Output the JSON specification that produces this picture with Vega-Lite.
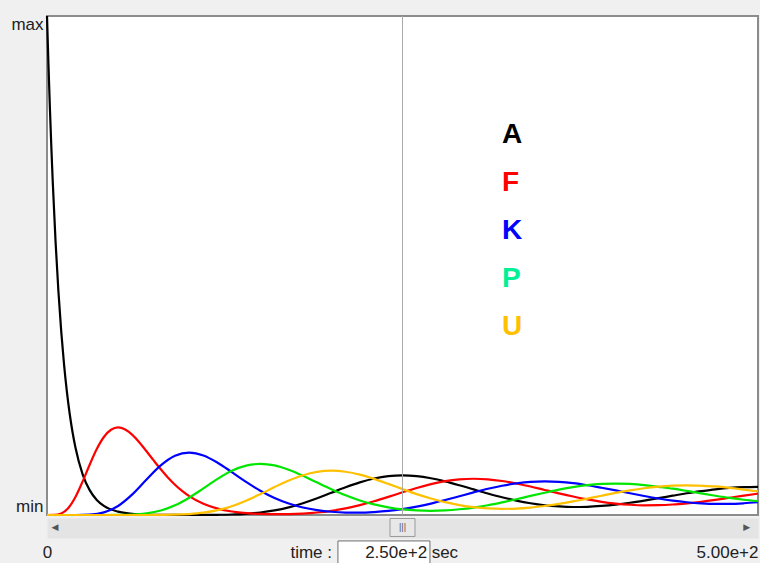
{
  "$schema": "https://vega.github.io/schema/vega-lite/v6.json",
  "autosize": {"type": "none"},
  "padding": {"left": 47, "top": 16, "right": 2, "bottom": 48},
  "width": 711,
  "height": 499,
  "background": "#f0f0f0",
  "config": {
    "view": {"fill": "white", "stroke": "#8c8c8c", "strokeWidth": 2},
    "font": "Liberation Sans"
  },
  "datasets": {
    "series": [
      {"t":0,"v":1,"s":"A"},{"t":1,"v":0.9048,"s":"A"},{"t":2,"v":0.8187,"s":"A"},{"t":3,"v":0.7408,"s":"A"},{"t":4,"v":0.6703,"s":"A"},{"t":6,"v":0.5488,"s":"A"},{"t":8,"v":0.4493,"s":"A"},{"t":10,"v":0.3679,"s":"A"},{"t":12,"v":0.3012,"s":"A"},{"t":14,"v":0.2466,"s":"A"},{"t":16,"v":0.2019,"s":"A"},{"t":18,"v":0.1653,"s":"A"},{"t":20,"v":0.1353,"s":"A"},{"t":25,"v":0.0821,"s":"A"},{"t":30,"v":0.0498,"s":"A"},{"t":35,"v":0.0302,"s":"A"},{"t":40,"v":0.0183,"s":"A"},{"t":50,"v":0.0067,"s":"A"},{"t":60,"v":0.0025,"s":"A"},{"t":70,"v":0.0009,"s":"A"},{"t":80,"v":0.0003,"s":"A"},{"t":90,"v":0.0001,"s":"A"},{"t":100,"v":0.0,"s":"A"},{"t":110,"v":0.0001,"s":"A"},{"t":120,"v":0.0004,"s":"A"},{"t":130,"v":0.001,"s":"A"},{"t":140,"v":0.0024,"s":"A"},{"t":150,"v":0.005,"s":"A"},{"t":160,"v":0.0092,"s":"A"},{"t":170,"v":0.0154,"s":"A"},{"t":180,"v":0.0237,"s":"A"},{"t":190,"v":0.0336,"s":"A"},{"t":200,"v":0.0446,"s":"A"},{"t":210,"v":0.0555,"s":"A"},{"t":220,"v":0.0653,"s":"A"},{"t":230,"v":0.0731,"s":"A"},{"t":240,"v":0.078,"s":"A"},{"t":250,"v":0.0796,"s":"A"},{"t":260,"v":0.078,"s":"A"},{"t":270,"v":0.0736,"s":"A"},{"t":280,"v":0.0673,"s":"A"},{"t":290,"v":0.0596,"s":"A"},{"t":300,"v":0.0513,"s":"A"},{"t":310,"v":0.0431,"s":"A"},{"t":320,"v":0.0355,"s":"A"},{"t":330,"v":0.0289,"s":"A"},{"t":340,"v":0.0235,"s":"A"},{"t":350,"v":0.0195,"s":"A"},{"t":360,"v":0.0171,"s":"A"},{"t":370,"v":0.016,"s":"A"},{"t":380,"v":0.0164,"s":"A"},{"t":390,"v":0.0181,"s":"A"},{"t":400,"v":0.0208,"s":"A"},{"t":410,"v":0.0245,"s":"A"},{"t":420,"v":0.0289,"s":"A"},{"t":430,"v":0.0337,"s":"A"},{"t":440,"v":0.0387,"s":"A"},{"t":450,"v":0.0436,"s":"A"},{"t":460,"v":0.0477,"s":"A"},{"t":470,"v":0.0514,"s":"A"},{"t":480,"v":0.0542,"s":"A"},{"t":490,"v":0.0557,"s":"A"},{"t":500,"v":0.0563,"s":"A"},
      {"t":0,"v":0,"s":"F"},{"t":5,"v":0.0002,"s":"F"},{"t":10,"v":0.0031,"s":"F"},{"t":15,"v":0.0141,"s":"F"},{"t":20,"v":0.0361,"s":"F"},{"t":25,"v":0.0668,"s":"F"},{"t":30,"v":0.1008,"s":"F"},{"t":35,"v":0.1322,"s":"F"},{"t":40,"v":0.1563,"s":"F"},{"t":45,"v":0.1708,"s":"F"},{"t":50,"v":0.1755,"s":"F"},{"t":55,"v":0.1714,"s":"F"},{"t":60,"v":0.1606,"s":"F"},{"t":65,"v":0.1454,"s":"F"},{"t":70,"v":0.1277,"s":"F"},{"t":75,"v":0.1094,"s":"F"},{"t":80,"v":0.0916,"s":"F"},{"t":85,"v":0.0752,"s":"F"},{"t":90,"v":0.0607,"s":"F"},{"t":95,"v":0.0483,"s":"F"},{"t":100,"v":0.0378,"s":"F"},{"t":110,"v":0.0224,"s":"F"},{"t":120,"v":0.0127,"s":"F"},{"t":130,"v":0.007,"s":"F"},{"t":140,"v":0.0037,"s":"F"},{"t":150,"v":0.0021,"s":"F"},{"t":160,"v":0.0016,"s":"F"},{"t":170,"v":0.0018,"s":"F"},{"t":180,"v":0.0028,"s":"F"},{"t":190,"v":0.005,"s":"F"},{"t":200,"v":0.0084,"s":"F"},{"t":210,"v":0.0133,"s":"F"},{"t":220,"v":0.0197,"s":"F"},{"t":230,"v":0.0275,"s":"F"},{"t":240,"v":0.0363,"s":"F"},{"t":250,"v":0.0455,"s":"F"},{"t":260,"v":0.0542,"s":"F"},{"t":270,"v":0.0618,"s":"F"},{"t":280,"v":0.0678,"s":"F"},{"t":290,"v":0.0714,"s":"F"},{"t":300,"v":0.0726,"s":"F"},{"t":310,"v":0.0715,"s":"F"},{"t":320,"v":0.0681,"s":"F"},{"t":330,"v":0.0631,"s":"F"},{"t":340,"v":0.0571,"s":"F"},{"t":350,"v":0.0502,"s":"F"},{"t":360,"v":0.0434,"s":"F"},{"t":370,"v":0.037,"s":"F"},{"t":380,"v":0.0312,"s":"F"},{"t":390,"v":0.0264,"s":"F"},{"t":400,"v":0.0229,"s":"F"},{"t":410,"v":0.0205,"s":"F"},{"t":420,"v":0.0194,"s":"F"},{"t":430,"v":0.0197,"s":"F"},{"t":440,"v":0.021,"s":"F"},{"t":450,"v":0.0234,"s":"F"},{"t":460,"v":0.0264,"s":"F"},{"t":470,"v":0.0302,"s":"F"},{"t":480,"v":0.0345,"s":"F"},{"t":490,"v":0.0387,"s":"F"},{"t":500,"v":0.0428,"s":"F"},
      {"t":0,"v":0,"s":"K"},{"t":10,"v":0,"s":"K"},{"t":20,"v":0.0,"s":"K"},{"t":30,"v":0.0008,"s":"K"},{"t":40,"v":0.0053,"s":"K"},{"t":50,"v":0.0181,"s":"K"},{"t":60,"v":0.0413,"s":"K"},{"t":70,"v":0.071,"s":"K"},{"t":80,"v":0.0993,"s":"K"},{"t":90,"v":0.1186,"s":"K"},{"t":100,"v":0.1251,"s":"K"},{"t":110,"v":0.1194,"s":"K"},{"t":120,"v":0.1048,"s":"K"},{"t":130,"v":0.0859,"s":"K"},{"t":140,"v":0.0663,"s":"K"},{"t":150,"v":0.0486,"s":"K"},{"t":160,"v":0.0341,"s":"K"},{"t":170,"v":0.023,"s":"K"},{"t":180,"v":0.015,"s":"K"},{"t":190,"v":0.0098,"s":"K"},{"t":200,"v":0.0065,"s":"K"},{"t":210,"v":0.0049,"s":"K"},{"t":220,"v":0.0046,"s":"K"},{"t":230,"v":0.0058,"s":"K"},{"t":240,"v":0.0081,"s":"K"},{"t":250,"v":0.0118,"s":"K"},{"t":260,"v":0.0167,"s":"K"},{"t":270,"v":0.0229,"s":"K"},{"t":280,"v":0.03,"s":"K"},{"t":290,"v":0.0376,"s":"K"},{"t":300,"v":0.0453,"s":"K"},{"t":310,"v":0.0526,"s":"K"},{"t":320,"v":0.0587,"s":"K"},{"t":330,"v":0.0634,"s":"K"},{"t":340,"v":0.0664,"s":"K"},{"t":350,"v":0.0672,"s":"K"},{"t":360,"v":0.0663,"s":"K"},{"t":370,"v":0.0637,"s":"K"},{"t":380,"v":0.0596,"s":"K"},{"t":390,"v":0.0546,"s":"K"},{"t":400,"v":0.0493,"s":"K"},{"t":410,"v":0.0435,"s":"K"},{"t":420,"v":0.038,"s":"K"},{"t":430,"v":0.033,"s":"K"},{"t":440,"v":0.0288,"s":"K"},{"t":450,"v":0.0256,"s":"K"},{"t":460,"v":0.0234,"s":"K"},{"t":470,"v":0.0223,"s":"K"},{"t":480,"v":0.0224,"s":"K"},{"t":490,"v":0.0235,"s":"K"},{"t":500,"v":0.0255,"s":"K"},
      {"t":0,"v":0,"s":"P"},{"t":20,"v":0,"s":"P"},{"t":40,"v":0.0,"s":"P"},{"t":50,"v":0.0002,"s":"P"},{"t":60,"v":0.0009,"s":"P"},{"t":70,"v":0.0033,"s":"P"},{"t":80,"v":0.009,"s":"P"},{"t":90,"v":0.0194,"s":"P"},{"t":100,"v":0.0347,"s":"P"},{"t":110,"v":0.0534,"s":"P"},{"t":120,"v":0.0724,"s":"P"},{"t":130,"v":0.0885,"s":"P"},{"t":140,"v":0.099,"s":"P"},{"t":150,"v":0.1024,"s":"P"},{"t":160,"v":0.0993,"s":"P"},{"t":170,"v":0.0906,"s":"P"},{"t":180,"v":0.0786,"s":"P"},{"t":190,"v":0.065,"s":"P"},{"t":200,"v":0.0517,"s":"P"},{"t":210,"v":0.0395,"s":"P"},{"t":220,"v":0.0292,"s":"P"},{"t":230,"v":0.0213,"s":"P"},{"t":240,"v":0.0154,"s":"P"},{"t":250,"v":0.0113,"s":"P"},{"t":260,"v":0.0091,"s":"P"},{"t":270,"v":0.0083,"s":"P"},{"t":280,"v":0.0092,"s":"P"},{"t":290,"v":0.0115,"s":"P"},{"t":300,"v":0.0149,"s":"P"},{"t":310,"v":0.0196,"s":"P"},{"t":320,"v":0.0253,"s":"P"},{"t":330,"v":0.0316,"s":"P"},{"t":340,"v":0.0383,"s":"P"},{"t":350,"v":0.0446,"s":"P"},{"t":360,"v":0.0507,"s":"P"},{"t":370,"v":0.0559,"s":"P"},{"t":380,"v":0.0598,"s":"P"},{"t":390,"v":0.0622,"s":"P"},{"t":400,"v":0.063,"s":"P"},{"t":410,"v":0.0622,"s":"P"},{"t":420,"v":0.06,"s":"P"},{"t":430,"v":0.0565,"s":"P"},{"t":440,"v":0.0528,"s":"P"},{"t":450,"v":0.0482,"s":"P"},{"t":460,"v":0.0432,"s":"P"},{"t":470,"v":0.0386,"s":"P"},{"t":480,"v":0.0343,"s":"P"},{"t":490,"v":0.0306,"s":"P"},{"t":500,"v":0.0278,"s":"P"},
      {"t":0,"v":0,"s":"U"},{"t":40,"v":0,"s":"U"},{"t":70,"v":0.0,"s":"U"},{"t":80,"v":0.0002,"s":"U"},{"t":90,"v":0.0006,"s":"U"},{"t":100,"v":0.0019,"s":"U"},{"t":110,"v":0.0046,"s":"U"},{"t":120,"v":0.0097,"s":"U"},{"t":130,"v":0.0176,"s":"U"},{"t":140,"v":0.0286,"s":"U"},{"t":150,"v":0.0418,"s":"U"},{"t":160,"v":0.0559,"s":"U"},{"t":170,"v":0.0691,"s":"U"},{"t":180,"v":0.0798,"s":"U"},{"t":190,"v":0.0865,"s":"U"},{"t":200,"v":0.0888,"s":"U"},{"t":210,"v":0.0867,"s":"U"},{"t":220,"v":0.0808,"s":"U"},{"t":230,"v":0.0724,"s":"U"},{"t":240,"v":0.0624,"s":"U"},{"t":250,"v":0.0519,"s":"U"},{"t":260,"v":0.0418,"s":"U"},{"t":270,"v":0.0331,"s":"U"},{"t":280,"v":0.0257,"s":"U"},{"t":290,"v":0.0199,"s":"U"},{"t":300,"v":0.0157,"s":"U"},{"t":310,"v":0.0132,"s":"U"},{"t":320,"v":0.0123,"s":"U"},{"t":330,"v":0.0129,"s":"U"},{"t":340,"v":0.0149,"s":"U"},{"t":350,"v":0.018,"s":"U"},{"t":360,"v":0.0223,"s":"U"},{"t":370,"v":0.0272,"s":"U"},{"t":380,"v":0.0328,"s":"U"},{"t":390,"v":0.0386,"s":"U"},{"t":400,"v":0.0442,"s":"U"},{"t":410,"v":0.0493,"s":"U"},{"t":420,"v":0.0536,"s":"U"},{"t":430,"v":0.0567,"s":"U"},{"t":440,"v":0.0587,"s":"U"},{"t":450,"v":0.0595,"s":"U"},{"t":460,"v":0.0586,"s":"U"},{"t":470,"v":0.0572,"s":"U"},{"t":480,"v":0.0545,"s":"U"},{"t":490,"v":0.051,"s":"U"},{"t":500,"v":0.0472,"s":"U"}
    ],
    "cursor": [{"t": 250}]
  },
  "layer": [
    {
      "data": {"name": "series"},
      "mark": {"type": "line", "strokeWidth": 2.2, "interpolate": "monotone"},
      "encoding": {
        "x": {
          "field": "t", "type": "quantitative",
          "scale": {"domain": [0, 500], "nice": false},
          "axis": {
            "values": [0, 500],
            "labelExpr": "datum.value == 0 ? '0' : '5.00e+2'",
            "title": null,
            "ticks": false,
            "tickSize": 0,
            "grid": false,
            "domainColor": "#e4e4e4",
            "domainWidth": 20,
            "offset": 13,
            "labelOverlap": false,
            "labelFlush": false,
            "labelBound": false,
            "labelFontSize": 17,
            "labelColor": "#222222",
            "labelBaseline": "top",
            "labelPadding": 16,
            "labelAlign": {"condition": {"test": "datum.value == 500", "value": "right"}, "value": "center"}
          }
        },
        "y": {
          "field": "v", "type": "quantitative",
          "scale": {"domain": [0, 1], "nice": false},
          "axis": {
            "values": [0, 1],
            "labelExpr": "datum.value == 1 ? 'max' : 'min'",
            "title": null,
            "ticks": false,
            "tickSize": 0,
            "domain": false,
            "grid": false,
            "labelFlush": true,
            "labelPadding": 4,
            "labelFontSize": 17,
            "labelColor": "#222222"
          }
        },
        "color": {
          "field": "s", "type": "nominal",
          "scale": {"domain": ["A", "F", "K", "P", "U"], "range": ["#000000", "#ff0000", "#0000ff", "#00e600", "#ffc000"]},
          "legend": {
            "orient": "none",
            "legendX": 427,
            "legendY": 105,
            "title": null,
            "padding": 0,
            "labelFontSize": 28,
            "labelFontWeight": "bold",
            "labelFont": "Liberation Sans",
            "labelOffset": 0,
            "labelLimit": 0,
            "symbolSize": 0,
            "symbolStrokeWidth": 0,
            "symbolOpacity": 0,
            "rowPadding": 20,
            "encode": {
              "labels": {
                "update": {
                  "fill": {"signal": "datum.value === 'A' ? '#000000' : datum.value === 'F' ? '#ff0000' : datum.value === 'K' ? '#0000ff' : datum.value === 'P' ? '#00f095' : '#ffc000'"}
                }
              }
            }
          }
        }
      }
    },
    {
      "data": {"name": "cursor"},
      "mark": {"type": "rule", "color": "#aaaaaa", "strokeWidth": 1},
      "encoding": {"x": {"field": "t", "type": "quantitative"}}
    },
    {
      "data": {"name": "cursor"},
      "mark": {"type": "point", "shape": "M-1.25,-0.9H1.25V0.9H-1.25Z", "size": 400, "filled": true, "fill": "#e8e8e8", "stroke": "#9a9a9a", "strokeWidth": 1, "opacity": 1},
      "encoding": {"x": {"field": "t", "type": "quantitative"}, "y": {"datum": -0.025}}
    },
    {
      "data": {"name": "cursor"},
      "mark": {"type": "text", "text": "|||", "fontSize": 9, "color": "#555555", "baseline": "middle", "align": "center"},
      "encoding": {"x": {"field": "t", "type": "quantitative"}, "y": {"datum": -0.025}}
    },
    {
      "data": {"values": [{"label": "◀"}]},
      "mark": {"type": "text", "font": "DejaVu Sans", "fontSize": 9, "color": "#555555", "baseline": "middle", "align": "center"},
      "encoding": {"x": {"datum": 5.6}, "y": {"datum": -0.024}, "text": {"field": "label"}}
    },
    {
      "data": {"values": [{"label": "▶"}]},
      "mark": {"type": "text", "font": "DejaVu Sans", "fontSize": 9, "color": "#555555", "baseline": "middle", "align": "center"},
      "encoding": {"x": {"datum": 492}, "y": {"datum": -0.024}, "text": {"field": "label"}}
    },
    {
      "data": {"values": [{"label": "box"}]},
      "mark": {"type": "rect", "fill": "white", "stroke": "#6e6e6e", "strokeWidth": 1},
      "encoding": {"x": {"datum": 204.6}, "x2": {"datum": 269.3}, "y": {"datum": -0.052}, "y2": {"datum": -0.1}}
    },
    {
      "data": {"name": "cursor"},
      "mark": {"type": "text", "fontSize": 17, "color": "#222222", "align": "right", "baseline": "alphabetic"},
      "encoding": {"x": {"datum": 267.3}, "y": {"datum": -0.0862}, "text": {"field": "t", "format": ".2e"}}
    },
    {
      "data": {"values": [{"label": "sec"}]},
      "mark": {"type": "text", "fontSize": 17, "color": "#222222", "align": "left", "baseline": "alphabetic"},
      "encoding": {"x": {"datum": 270.5}, "y": {"datum": -0.0862}, "text": {"field": "label"}}
    },
    {
      "data": {"values": [{"label": "time :"}]},
      "mark": {"type": "text", "fontSize": 17, "color": "#222222", "align": "right", "baseline": "alphabetic"},
      "encoding": {"x": {"datum": 200.4}, "y": {"datum": -0.0862}, "text": {"field": "label"}}
    }
  ]
}
